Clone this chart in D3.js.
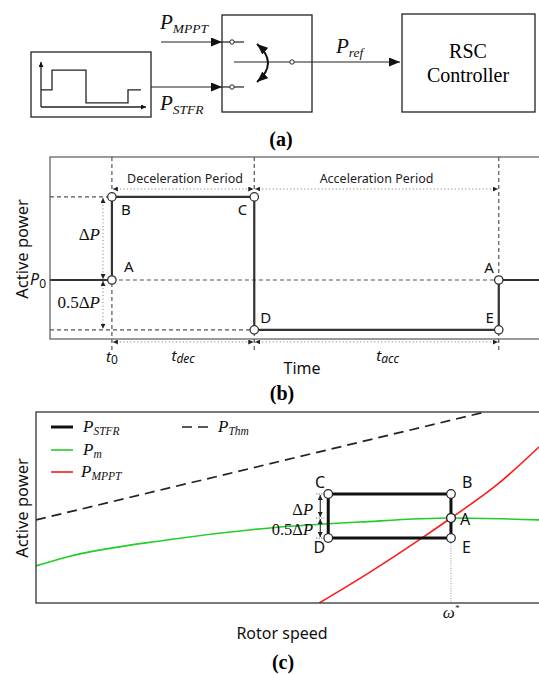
<!DOCTYPE html>
<html>
<head>
<meta charset="utf-8">
<script src="https://cdn.jsdelivr.net/npm/d3@7"></script>
<style>
  body { margin: 0; background: #fff; }
  svg { display: block; }
</style>
</head>
<body>
<div id="chart"></div>
<script>
// ---- (a) step waveform drawn inside the signal box
const waveT = [0, 1.1, 1.1, 4.5, 4.5, 8.7, 8.7, 10];
const waveP = [0.38, 0.38, 0.82, 0.82, 0.09, 0.09, 0.38, 0.38];

// ---- (b) active power vs time (P0 = 0, ΔP = 1)
const stepT = [0, 1.0, 1.0, 3.3, 3.3, 7.25, 7.25, 7.9];
const stepP = [0, 0, 1, 1, -0.6, -0.6, 0, 0];
const stepNames = ["A", "B", "C", "D", "E", "A"];
const stepNodeT = [1.0, 1.0, 3.3, 3.3, 7.25, 7.25];
const stepNodeP = [0, 1, 1, -0.6, -0.6, 0];
const timeMarks = [1.0, 3.3, 7.25];   // t0, end of deceleration, end of acceleration
const periodNames = ["Deceleration Period", "Acceleration Period"];

// ---- (c) active power vs rotor speed (normalised)
const pmW = [0, 0.062, 0.26, 0.465, 0.644, 0.825, 1.0];
const pmP = [0.194, 0.241, 0.330, 0.393, 0.424, 0.445, 0.435];
const mpptW = [0.563, 0.664, 0.767, 0.825, 0.916, 1.0];
const mpptP = [0, 0.162, 0.340, 0.445, 0.618, 0.817];
const thmW = [0, 0.893];
const thmP = [0.435, 1.0];
const stfrNames = ["A", "B", "C", "D", "E", "A"];
const stfrW = [0.825, 0.825, 0.581, 0.581, 0.825, 0.825];
const stfrP = [0.445, 0.571, 0.571, 0.340, 0.340, 0.445];

const W = 539, H = 674;
const SERIF = "'Liberation Serif', 'Times New Roman', serif";
const SANS = "'Noto Sans', 'DejaVu Sans', sans-serif";
const INK = "#222";

const svg = d3.select("#chart").append("svg")
  .attr("width", W).attr("height", H)
  .attr("viewBox", `0 0 ${W} ${H}`);

const defs = svg.append("defs");
function marker(id, w, h, color) {
  defs.append("marker")
    .attr("id", id)
    .attr("viewBox", `0 0 ${w} ${h}`)
    .attr("refX", w).attr("refY", h / 2)
    .attr("markerWidth", w).attr("markerHeight", h)
    .attr("markerUnits", "userSpaceOnUse")
    .attr("orient", "auto-start-reverse")
    .append("path")
    .attr("d", `M0,0L${w},${h / 2}L0,${h}Z`)
    .attr("fill", color);
}
marker("arrBig", 11, 9, "#111");
marker("arrSmall", 5, 5, "#222");
marker("arrMid", 5, 5, "#111");

// text with a subscript
function subText(g, x, y, main, sub, o) {
  const t = g.append("text")
    .attr("x", x).attr("y", y)
    .attr("font-family", o.family || SERIF)
    .attr("font-style", o.style || "italic")
    .attr("font-size", o.size)
    .attr("text-anchor", o.anchor || "start")
    .attr("fill", "#111");
  t.append("tspan").text(main);
  t.append("tspan")
    .attr("font-size", o.subSize)
    .attr("font-style", o.subStyle || null)
    .attr("dy", o.dy)
    .text(sub);
  return t;
}
// "ΔP" style text, with optional coefficient
function deltaP(g, x, y, pre, size, anchor) {
  const t = g.append("text")
    .attr("x", x).attr("y", y)
    .attr("font-family", SERIF)
    .attr("font-size", size)
    .attr("text-anchor", anchor || "start")
    .attr("fill", "#111");
  t.append("tspan").text(pre + "Δ");
  t.append("tspan").attr("font-style", "italic").text("P");
  return t;
}
function caption(txt, x, y) {
  svg.append("text")
    .attr("x", x).attr("y", y)
    .attr("text-anchor", "middle")
    .attr("font-family", SERIF)
    .attr("font-weight", "bold")
    .attr("font-size", 20)
    .text(txt);
}

// =================================================== (a)
const ga = svg.append("g");

// signal box with waveform
ga.append("rect").attr("x", 31).attr("y", 52).attr("width", 120).attr("height", 65)
  .attr("fill", "none").attr("stroke", INK).attr("stroke-width", 1.3);

const wx = d3.scaleLinear().domain([0, 10]).range([41, 141]);
const wy = d3.scaleLinear().domain([0, 1]).range([107, 62]);
ga.append("line").attr("x1", wx(0)).attr("y1", wy(0)).attr("x2", wx(0)).attr("y2", wy(1))
  .attr("stroke", INK).attr("stroke-width", 1.3).attr("marker-end", "url(#arrMid)");
ga.append("line").attr("x1", wx(0)).attr("y1", wy(0)).attr("x2", wx(10.5)).attr("y2", wy(0))
  .attr("stroke", INK).attr("stroke-width", 1.3).attr("marker-end", "url(#arrMid)");
ga.append("path")
  .datum(waveT.map((t, i) => [t, waveP[i]]))
  .attr("d", d3.line().x(d => wx(d[0])).y(d => wy(d[1])))
  .attr("fill", "none").attr("stroke", INK).attr("stroke-width", 1.3);

// switch box
ga.append("rect").attr("x", 222).attr("y", 15).attr("width", 90).attr("height", 97)
  .attr("fill", "none").attr("stroke", INK).attr("stroke-width", 1.3);

// input arrows
ga.append("line").attr("x1", 161).attr("y1", 42).attr("x2", 222).attr("y2", 42)
  .attr("stroke", INK).attr("stroke-width", 1.2).attr("marker-end", "url(#arrBig)");
ga.append("line").attr("x1", 151).attr("y1", 87).attr("x2", 222).attr("y2", 87)
  .attr("stroke", INK).attr("stroke-width", 1.2).attr("marker-end", "url(#arrBig)");

// contacts
[42, 87].forEach(y => {
  ga.append("line").attr("x1", 222).attr("y1", y).attr("x2", 244).attr("y2", y)
    .attr("stroke", INK).attr("stroke-width", 1.2);
  ga.append("circle").attr("cx", 232).attr("cy", y).attr("r", 2.2)
    .attr("fill", "#fff").attr("stroke", INK).attr("stroke-width", 1);
});
ga.append("line").attr("x1", 234).attr("y1", 62).attr("x2", 400).attr("y2", 62)
  .attr("stroke", INK).attr("stroke-width", 1.2).attr("marker-end", "url(#arrBig)");
ga.append("circle").attr("cx", 292).attr("cy", 62).attr("r", 2.2)
  .attr("fill", "#fff").attr("stroke", INK).attr("stroke-width", 1);

// curved double arrow
ga.append("path").attr("d", "M257,44 Q279,63 257,82")
  .attr("fill", "none").attr("stroke", "#111").attr("stroke-width", 2)
  .attr("marker-start", "url(#arrBig)").attr("marker-end", "url(#arrBig)");

subText(ga, 160, 29, "P", "MPPT", { size: 21, subSize: 13.5, dy: 4 });
subText(ga, 160, 110, "P", "STFR", { size: 21, subSize: 13.5, dy: 4 });
subText(ga, 336, 53, "P", "ref", { size: 21, subSize: 13.5, dy: 4 });

// RSC controller box
ga.append("rect").attr("x", 402).attr("y", 14).attr("width", 133).attr("height", 98)
  .attr("fill", "none").attr("stroke", INK).attr("stroke-width", 1.3);
ga.append("text").attr("x", 468).attr("y", 58).attr("text-anchor", "middle")
  .attr("font-family", SERIF).attr("font-size", 20).text("RSC");
ga.append("text").attr("x", 468).attr("y", 82).attr("text-anchor", "middle")
  .attr("font-family", SERIF).attr("font-size", 20).text("Controller");

caption("(a)", 281, 146);

// =================================================== (b)
const gb = svg.append("g");
const bx = d3.scaleLinear().domain([0, 7.9]).range([50, 539]);
const by = d3.scaleLinear().domain([-0.71, 1.48]).range([339, 157]);

gb.append("rect").attr("x", bx(0)).attr("y", by(1.48))
  .attr("width", bx(7.9) - bx(0) + 2).attr("height", by(-0.71) - by(1.48))
  .attr("fill", "none").attr("stroke", "#666").attr("stroke-width", 1.3);

const dash = sel => sel.attr("stroke", "#555").attr("stroke-width", 1.2).attr("stroke-dasharray", "4,3");
const dot = sel => sel.attr("stroke", "#777").attr("stroke-width", 1).attr("stroke-dasharray", "1,2.5");

// vertical dashed time marks
timeMarks.forEach(t => {
  gb.append("line").attr("x1", bx(t)).attr("x2", bx(t))
    .attr("y1", by(1.48)).attr("y2", 350).call(dash);
});
// horizontal dashed reference levels
gb.append("line").attr("x1", bx(0)).attr("x2", bx(1.0)).attr("y1", by(1)).attr("y2", by(1)).call(dash);
gb.append("line").attr("x1", bx(1.0)).attr("x2", bx(7.25)).attr("y1", by(0)).attr("y2", by(0)).call(dash);
gb.append("line").attr("x1", bx(0)).attr("x2", bx(3.3)).attr("y1", by(-0.6)).attr("y2", by(-0.6)).call(dash);

// dotted period arrows (top and bottom)
[[0, 1], [1, 2]].forEach(([a, b], i) => {
  [189, 342].forEach(y => {
    gb.append("line").attr("x1", bx(timeMarks[a]) + 1).attr("x2", bx(timeMarks[b]) - 1)
      .attr("y1", y).attr("y2", y).call(dot)
      .attr("marker-start", "url(#arrSmall)").attr("marker-end", "url(#arrSmall)");
  });
  gb.append("text")
    .attr("x", (bx(timeMarks[a]) + bx(timeMarks[b])) / 2 + (i === 0 ? 2 : 0))
    .attr("y", 183).attr("text-anchor", "middle")
    .attr("font-family", SANS).attr("font-size", 12.5).attr("fill", "#222")
    .text(periodNames[i]);
});
// ΔP / 0.5ΔP dotted arrows
gb.append("line").attr("x1", 103).attr("x2", 103).attr("y1", by(1) + 1).attr("y2", by(0) - 1).call(dot)
  .attr("marker-start", "url(#arrSmall)").attr("marker-end", "url(#arrSmall)");
gb.append("line").attr("x1", 103).attr("x2", 103).attr("y1", by(0) + 1).attr("y2", by(-0.6) - 1).call(dot)
  .attr("marker-start", "url(#arrSmall)").attr("marker-end", "url(#arrSmall)");

// step signal
gb.append("path")
  .datum(stepT.map((t, i) => [t, stepP[i]]))
  .attr("d", d3.line().x(d => bx(d[0])).y(d => by(d[1])))
  .attr("fill", "none").attr("stroke", "#333").attr("stroke-width", 2.2);
gb.selectAll("circle.node").data(stepNames).join("circle")
  .attr("cx", (d, i) => bx(stepNodeT[i])).attr("cy", (d, i) => by(stepNodeP[i]))
  .attr("r", 4.2).attr("fill", "#fff").attr("stroke", "#333").attr("stroke-width", 1.3);

const bLabelDx = [12, 9, -7, 6, -5, -5];
const bLabelDy = [-8, 18, 18, -7, -7, -7];
const bAnchor = ["start", "start", "end", "start", "end", "end"];
gb.selectAll("text.node").data(stepNames).join("text")
  .attr("x", (d, i) => bx(stepNodeT[i]) + bLabelDx[i])
  .attr("y", (d, i) => by(stepNodeP[i]) + bLabelDy[i])
  .attr("text-anchor", (d, i) => bAnchor[i])
  .attr("font-family", SANS).attr("font-size", 15).attr("fill", "#111")
  .text(d => d);

deltaP(gb, 100, 240, "", 17, "end");
deltaP(gb, 100, 308, "0.5", 17, "end");
subText(gb, 46, 285, "P", "0", { family: SANS, size: 16, subSize: 12, dy: 3, anchor: "end", subStyle: "normal" });

// axis texts
gb.append("text").attr("transform", `translate(28,249) rotate(-90)`)
  .attr("text-anchor", "middle").attr("font-family", SANS).attr("font-size", 16.5).attr("fill", "#111")
  .text("Active power");
subText(gb, bx(1.0), 362, "t", "0", { family: SANS, size: 15, subSize: 12, dy: 2, anchor: "middle", subStyle: "normal" });
subText(gb, (bx(1.0) + bx(3.3)) / 2, 361, "t", "dec", { family: SANS, size: 15, subSize: 12, dy: 2, anchor: "middle" });
subText(gb, (bx(3.3) + bx(7.25)) / 2 + 11, 361, "t", "acc", { family: SANS, size: 15, subSize: 12, dy: 2, anchor: "middle" });
gb.append("text").attr("x", 302).attr("y", 374).attr("text-anchor", "middle")
  .attr("font-family", SANS).attr("font-size", 16).attr("fill", "#111").text("Time");

caption("(b)", 282, 400);

// =================================================== (c)
const gc = svg.append("g");
const cx = d3.scaleLinear().domain([0, 1]).range([36, 539]);
const cy = d3.scaleLinear().domain([0, 1]).range([603, 412]);

defs.append("clipPath").attr("id", "clipC").append("rect")
  .attr("x", cx(0)).attr("y", cy(1)).attr("width", cx(1) - cx(0)).attr("height", cy(0) - cy(1));

const lineC = d3.line().x(d => cx(d[0])).y(d => cy(d[1])).curve(d3.curveMonotoneX);
const plot = gc.append("g").attr("clip-path", "url(#clipC)");

plot.append("path").datum(thmW.map((w, i) => [w, thmP[i]]))
  .attr("d", lineC).attr("fill", "none").attr("stroke", "#222")
  .attr("stroke-width", 1.7).attr("stroke-dasharray", "10,6");
plot.append("path").datum(pmW.map((w, i) => [w, pmP[i]]))
  .attr("d", lineC).attr("fill", "none").attr("stroke", "#22cc2a").attr("stroke-width", 1.6);
plot.append("path").datum(mpptW.map((w, i) => [w, mpptP[i]]))
  .attr("d", lineC).attr("fill", "none").attr("stroke", "#ff1a1a").attr("stroke-width", 1.6);

// ω* guide
gc.append("line").attr("x1", cx(stfrW[4])).attr("x2", cx(stfrW[4]))
  .attr("y1", cy(stfrP[4])).attr("y2", cy(0))
  .attr("stroke", "#999").attr("stroke-width", 1).attr("stroke-dasharray", "1,1.5");

// STFR loop
gc.append("path").datum(stfrW.map((w, i) => [w, stfrP[i]]))
  .attr("d", d3.line().x(d => cx(d[0])).y(d => cy(d[1])))
  .attr("fill", "none").attr("stroke", "#111").attr("stroke-width", 3);
gc.selectAll("circle.node").data(stfrNames).join("circle")
  .attr("cx", (d, i) => cx(stfrW[i])).attr("cy", (d, i) => cy(stfrP[i]))
  .attr("r", 4.3).attr("fill", "#fff").attr("stroke", "#222").attr("stroke-width", 1.2);

const cLabelDx = [9, 11, -3, -3, 11, 9];
const cLabelDy = [7, -6, -6, 15, 15, 7];
const cAnchor = ["start", "start", "end", "end", "start", "start"];
gc.selectAll("text.node").data(stfrNames.slice(0, 5)).join("text")
  .attr("x", (d, i) => cx(stfrW[i]) + cLabelDx[i])
  .attr("y", (d, i) => cy(stfrP[i]) + cLabelDy[i])
  .attr("text-anchor", (d, i) => cAnchor[i])
  .attr("font-family", SANS).attr("font-size", 16).attr("fill", "#111")
  .text(d => d);

// ΔP arrows beside the loop
const ax = cx(stfrW[2]) - 8;
gc.append("line").attr("x1", ax).attr("x2", ax).attr("y1", cy(stfrP[2]) + 1).attr("y2", cy(stfrP[0]) - 1)
  .attr("stroke", "#111").attr("stroke-width", 1)
  .attr("marker-start", "url(#arrSmall)").attr("marker-end", "url(#arrSmall)");
gc.append("line").attr("x1", ax).attr("x2", ax).attr("y1", cy(stfrP[0]) + 1).attr("y2", cy(stfrP[3]) - 1)
  .attr("stroke", "#111").attr("stroke-width", 1)
  .attr("marker-start", "url(#arrSmall)").attr("marker-end", "url(#arrSmall)");
[stfrP[2], stfrP[0], stfrP[3]].forEach(p => {
  gc.append("line").attr("x1", ax - 4).attr("x2", ax + 4).attr("y1", cy(p)).attr("y2", cy(p))
    .attr("stroke", "#444").attr("stroke-width", 1).attr("stroke-dasharray", "1,1.5");
});
deltaP(gc, 313, 515, "", 16.5, "end");
deltaP(gc, 313, 535, "0.5", 16.5, "end");

// frame
gc.append("rect").attr("x", cx(0)).attr("y", cy(1))
  .attr("width", cx(1) - cx(0) + 2).attr("height", cy(0) - cy(1))
  .attr("fill", "none").attr("stroke", "#333").attr("stroke-width", 1.3);

// legend
const legend = gc.append("g");
legend.append("line").attr("x1", 51).attr("x2", 73).attr("y1", 427).attr("y2", 427)
  .attr("stroke", "#111").attr("stroke-width", 3);
subText(legend, 83, 432, "P", "STFR", { size: 17, subSize: 11.5, dy: 3 });
legend.append("line").attr("x1", 51).attr("x2", 73).attr("y1", 450).attr("y2", 450)
  .attr("stroke", "#22cc2a").attr("stroke-width", 1.6);
subText(legend, 83, 455, "P", "m", { size: 17, subSize: 11.5, dy: 3 });
legend.append("line").attr("x1", 51).attr("x2", 73).attr("y1", 472).attr("y2", 472)
  .attr("stroke", "#ff1a1a").attr("stroke-width", 1.6);
subText(legend, 81, 477, "P", "MPPT", { size: 17, subSize: 11.5, dy: 3 });
legend.append("line").attr("x1", 182).attr("x2", 211).attr("y1", 427).attr("y2", 427)
  .attr("stroke", "#222").attr("stroke-width", 1.7).attr("stroke-dasharray", "10,6");
subText(legend, 218, 432, "P", "Thm", { size: 17, subSize: 11.5, dy: 3 });

// axis texts
gc.append("text").attr("transform", `translate(28,508) rotate(-90)`)
  .attr("text-anchor", "middle").attr("font-family", SANS).attr("font-size", 16.5).attr("fill", "#111")
  .text("Active power");
gc.append("text").attr("x", 282).attr("y", 639).attr("text-anchor", "middle")
  .attr("font-family", SANS).attr("font-size", 16).attr("fill", "#111").text("Rotor speed");
const om = gc.append("text").attr("x", cx(stfrW[4])).attr("y", 618).attr("text-anchor", "middle")
  .attr("font-family", SERIF).attr("font-style", "italic").attr("font-size", 17).attr("fill", "#111");
om.append("tspan").text("ω");
om.append("tspan").attr("font-size", 9).attr("dy", -7).text("*");

caption("(c)", 283, 669);
</script>
</body>
</html>
